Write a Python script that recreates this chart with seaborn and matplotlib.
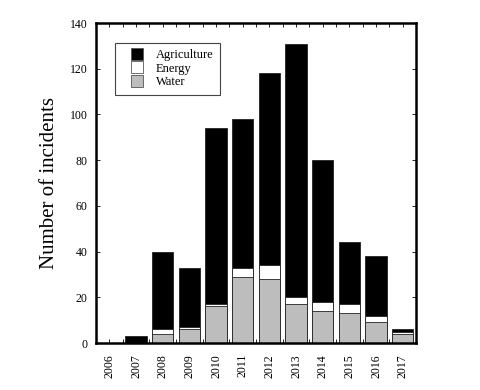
"""
Stacked bar chart of incidents per year by sector.
"""
import numpy as np
import pandas as pd
import matplotlib
matplotlib.use('Agg')
import matplotlib.pyplot as plt
import seaborn as sns
from matplotlib.lines import Line2D
from matplotlib.ticker import MultipleLocator

years = ['2006', '2007', '2008', '2009', '2010', '2011', '2012',
         '2013', '2014', '2015', '2016', '2017']
water = [0, 0, 4, 6, 16, 29, 28, 17, 14, 13, 9, 4]
energy = [0, 0, 2, 1, 1, 4, 6, 3, 4, 4, 3, 1]
agriculture = [0, 3, 34, 26, 77, 65, 84, 111, 62, 27, 26, 1]

df = pd.DataFrame({'year': years, 'Water': water, 'Energy': energy,
                   'Agriculture': agriculture})
df['we'] = df['Water'] + df['Energy']
df['total'] = df['we'] + df['Agriculture']

sns.set_style('ticks')
plt.rcParams['font.family'] = ['Liberation Serif', 'DejaVu Serif']
plt.rcParams['xtick.direction'] = 'in'
plt.rcParams['ytick.direction'] = 'in'
plt.rcParams['text.color'] = 'black'
plt.rcParams['axes.labelcolor'] = 'black'
plt.rcParams['xtick.color'] = 'black'
plt.rcParams['ytick.color'] = 'black'
plt.rcParams['axes.edgecolor'] = 'black'

fig = plt.figure(figsize=(4.8, 3.9), dpi=100)
ax = fig.add_axes([0.2, 0.1205, 0.6667, 0.8205])

edge = '#222222'
gray = '#bdbdbd'
# draw cumulative heights back to front
sns.barplot(data=df, x='year', y='total', color='black', edgecolor=edge,
            linewidth=0.6, saturation=1, ax=ax)
sns.barplot(data=df, x='year', y='we', color='white', edgecolor=edge,
            linewidth=0.6, saturation=1, ax=ax)
sns.barplot(data=df, x='year', y='Water', color=gray, edgecolor=edge,
            linewidth=0.6, saturation=1, ax=ax)

ax.set_xlim(-0.5, 11.5)
ax.set_ylim(0, 140)
ax.yaxis.set_major_locator(MultipleLocator(20))
ax.xaxis.set_minor_locator(MultipleLocator(0.5))
ax.tick_params(axis='both', which='both', top=True, right=True,
               labelsize=8.5, length=3, width=0.6)
ax.tick_params(axis='x', which='major', rotation=90, pad=8)
ax.tick_params(axis='y', pad=6)
ax.set_xlabel('')
ax.set_ylabel('Number of incidents', fontsize=15, labelpad=8)
for s in ax.spines.values():
    s.set_linewidth(1.8)
    s.set_color('black')

handles = [Line2D([], [], linestyle='none', marker='s', markersize=8.5,
                  markerfacecolor=c, markeredgecolor='#555555',
                  markeredgewidth=0.6, label=l)
           for c, l in [('black', 'Agriculture'), ('white', 'Energy'), (gray, 'Water')]]
leg = ax.legend(handles=handles, loc='upper left', bbox_to_anchor=(0.059, 0.9375),
                fontsize=9, fancybox=False, edgecolor='#444444', framealpha=1,
                handlelength=2.6, labelspacing=0.12, borderpad=0.5,
                handletextpad=0.2, borderaxespad=0)
leg.get_frame().set_linewidth(0.8)

fig.savefig('out.png', dpi=100)
plt.close()
